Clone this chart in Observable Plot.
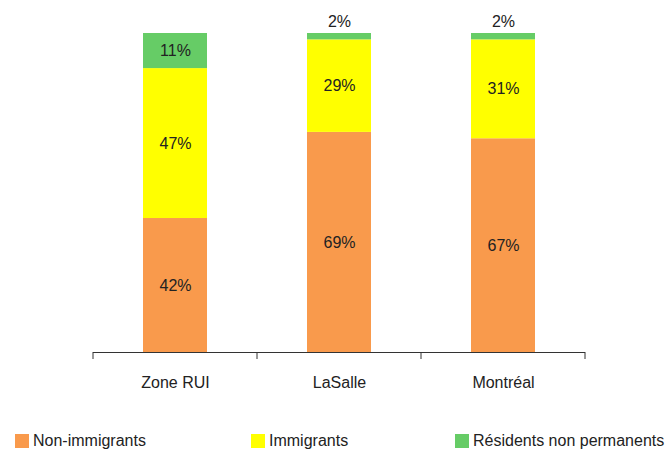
<!DOCTYPE html>
<html>
<head>
<meta charset="utf-8">
<script src="https://cdn.jsdelivr.net/npm/d3@7"></script>
<script src="https://cdn.jsdelivr.net/npm/@observablehq/plot@0.6"></script>
<style>
  body { margin: 0; background: #fff; font-family: "Liberation Sans", Arial, sans-serif; }
  #wrap { position: relative; width: 667px; height: 453px; }
  #legend { position: absolute; top: 432px; left: 0; width: 667px; height: 20px; font-size: 16px; color: #222; }
  .item { position: absolute; top: 0; display: flex; align-items: center; white-space: nowrap; }
  .sw { width: 14px; height: 14px; margin-right: 4px; }
</style>
</head>
<body>
<div id="wrap"><div id="chart"></div><div id="legend"></div></div>
<script>
const categories = ["Zone RUI", "LaSalle", "Montréal"];
const types = ["Non-immigrants", "Immigrants", "Résidents non permanents"];
const nonImmigrants = [42, 69, 67];
const immigrants = [47, 29, 31];
const residents = [11, 2, 2];
const colors = ["#F99A4C", "#FFFF00", "#66CC66"];

const series = [nonImmigrants, immigrants, residents];
const data = categories.flatMap((c, i) =>
  types.map((t, j) => ({cat: c, type: t, value: series[j][i]}))
);

function separators(index, scales) {
  const x = scales.x;
  const bw = x.bandwidth();
  const step = x(categories[1]) - x(categories[0]);
  const pos = categories.map(c => x(c) + bw / 2 - step / 2);
  pos.push(x(categories[categories.length - 1]) + bw / 2 + step / 2);
  const y0 = scales.y(0);
  const g = d3.create("svg:g");
  g.selectAll("line").data(pos).join("line")
    .attr("x1", d => d).attr("x2", d => d)
    .attr("y1", y0).attr("y2", y0 + 7)
    .attr("stroke", "#333");
  return g.node();
}

const chart = Plot.plot({
  width: 667,
  height: 412,
  marginLeft: 93,
  marginRight: 82,
  marginTop: 33,
  marginBottom: 60,
  style: {fontSize: "16px", fontFamily: "'Liberation Sans', Arial, sans-serif", color: "#222", background: "#fff"},
  x: {domain: categories, paddingInner: 0.61, paddingOuter: 0.305, label: null},
  y: {domain: [0, 100], axis: null},
  color: {domain: types, range: colors},
  marks: [
    Plot.barY(data, {x: "cat", y: "value", fill: "type"}),
    Plot.text(data, Plot.stackY({x: "cat", y: "value", z: "type",
      text: d => d.value >= 5 ? d.value + "%" : null, fill: "#222"})),
    Plot.text(data, Plot.stackY2({x: "cat", y: "value", z: "type",
      text: d => d.value < 5 ? d.value + "%" : null, dy: -12, fill: "#222"})),
    Plot.ruleY([0], {stroke: "#333"}),
    separators,
    Plot.axisX({tickSize: 0, tickPadding: 24, fontSize: 16, label: null})
  ]
});
document.getElementById("chart").appendChild(chart);

const legend = document.getElementById("legend");
const lefts = [15, 251, 455];
types.forEach((t, i) => {
  const it = document.createElement("div");
  it.className = "item";
  it.style.left = lefts[i] + "px";
  const sw = document.createElement("div");
  sw.className = "sw";
  sw.style.background = colors[i];
  const tx = document.createElement("span");
  tx.textContent = t;
  it.appendChild(sw); it.appendChild(tx);
  legend.appendChild(it);
});
</script>
</body>
</html>
